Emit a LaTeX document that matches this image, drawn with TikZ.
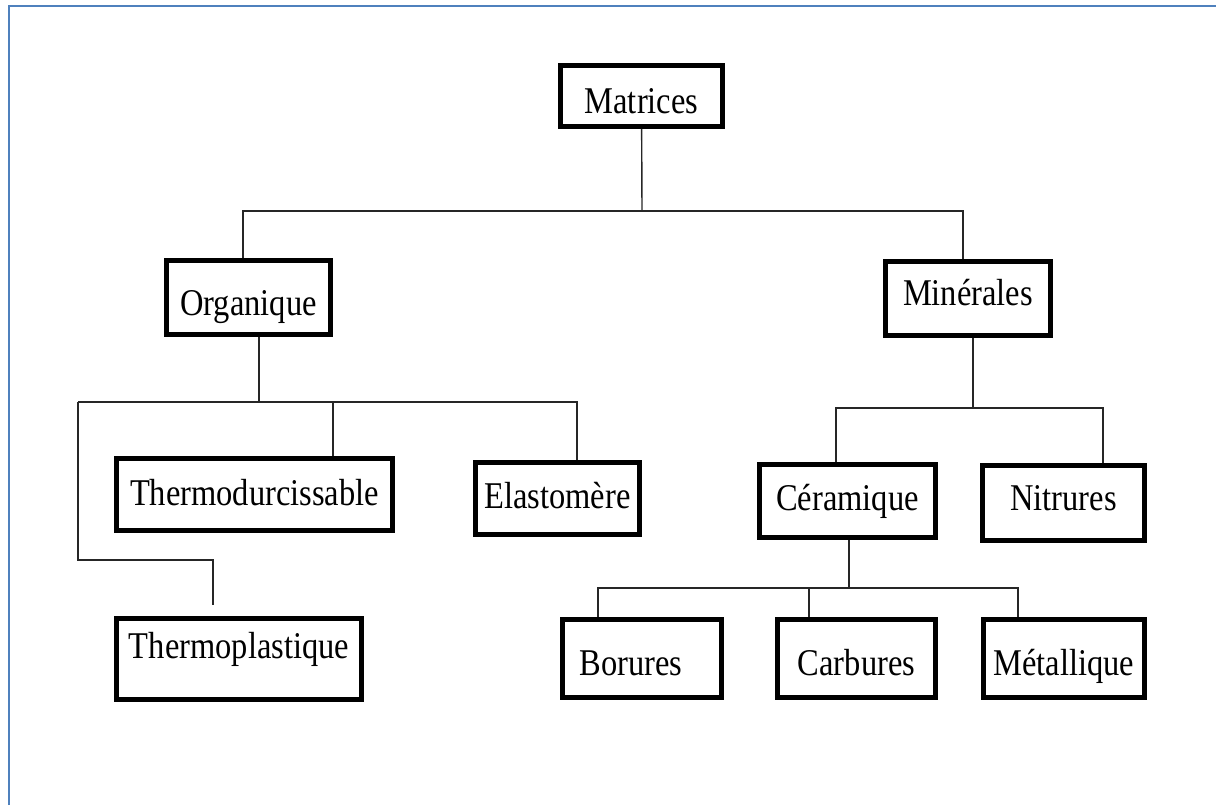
\documentclass[tikz,border=0pt]{standalone}
\usepackage{fontspec}
\setmainfont{Liberation Serif}[FakeStretch=0.86]
\usetikzlibrary{positioning}
\definecolor{FrameBlue}{HTML}{4F81BD}

\begin{document}
\begin{tikzpicture}[x=0.02cm, y=-0.02cm,
            box/.style={draw=black, line width=2.8pt, inner sep=0pt, align=center, text height=0.55cm, text depth=0.16cm, font=\fontsize{21.5}{24}\selectfont},
            size/.style 2 args={minimum width=#1*0.02cm, minimum height=#2*0.02cm},
            tdown/.style={text height=#1},
            tup/.style={text depth=#1},
            link/.style={draw=black!85, line width=0.8pt}
        ]
            \useasboundingbox (0,0) rectangle (1216,805);
            % Frame (left and top only)
            \draw[FrameBlue, line width=1.2pt] (9,805) -- (9,6) -- (1216,6);

            % Top level
            \node[box, size={162}{61}, tdown=0.87cm] (mat) at (641.5,96) {Matrices};

            % Second level
            \node[box, size={164}{74}, tdown=0.89cm] (org) at (248.5,297.5) {Organique};
            \node[box, size={165}{74}, tup=0.26cm] (min) at (968,298.5) {Minérales};

            % Organique branch
            \node[box, size={276}{72}, tdown=0.59cm] (thd) at (254.5,494.5) {Thermodurcissable};
            \node[box, size={164}{72}] (ela) at (557.5,498.5) {Elastomère};
            \node[box, size={245}{81}, tup=0.58cm] (thp) at (239,659) {Thermoplastique};

            % Minérales branch
            \node[box, size={176}{73}] (cer) at (847.5,501) {Céramique};
            \node[box, size={162}{75}, tup=0.26cm] (nit) at (1063.5,503) {Nitrures};

            % Céramique branch
            \node[box, size={159}{78}, tdown=0.85cm] (bor) at (642,658.5) {Borures\hspace*{0.44cm}};
            \node[box, size={158}{78}, tdown=0.85cm] (car) at (856.5,658.5) {Carbures};
            \node[box, size={161}{78}, tdown=0.85cm] (met) at (1064,658.5) {Métallique};

            % Connectors
            \coordinate (topbus) at (642,211);
            \draw[link] (mat) -- (topbus);
            \draw[link] ([xshift=-0.11cm]org.north) |- (topbus) -| ([xshift=-0.1cm]min.north);

            \coordinate (orgbus) at (259,402);
            \coordinate (orgleft) at (78,402);
            \coordinate (thpbend) at (78,560);
            \draw[link] (org.south -| orgbus) -- (orgbus);
            \draw[link] (orgleft) -| ([xshift=0.39cm]ela.north);
            \draw[link] ([xshift=1.57cm]thd.north) |- (orgbus);
            \draw[link] (orgleft) -- (thpbend) -| ([xshift=-0.52cm, yshift=0.22cm]thp.north);

            \coordinate (minbus) at (973,408);
            \draw[link] (min.south -| minbus) -- (minbus);
            \draw[link] ([xshift=-0.23cm]cer.north) |- (minbus) -| ([xshift=0.79cm]nit.north);

            \coordinate (cerbus) at (849,588);
            \draw[link] (cer.south -| cerbus) -- (cerbus);
            \draw[link] ([xshift=-0.88cm]bor.north) |- (cerbus) -| ([xshift=-0.92cm]met.north);
            \draw[link] ([xshift=-0.95cm]car.north) |- (cerbus);
        \end{tikzpicture}
\end{document}
